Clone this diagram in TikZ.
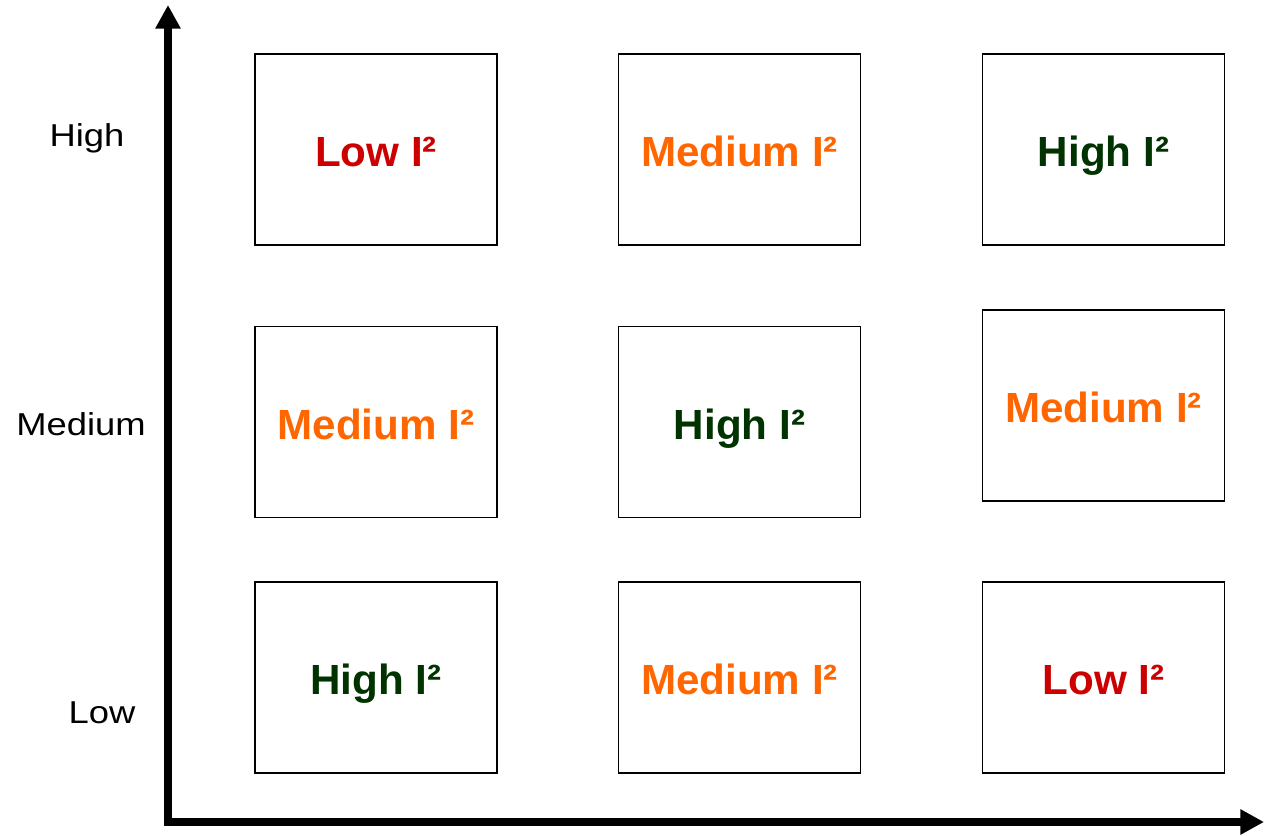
\documentclass[tikz,border=0pt]{standalone}
\usepackage{fontspec}
\usepackage{graphicx}
\setmainfont{Liberation Sans}
\usetikzlibrary{arrows.meta}

\begin{document}
\begin{tikzpicture}[
    cell/.style={shape=rectangle,draw,line width=0.8pt,minimum width=4.84cm,minimum height=3.82cm,inner sep=0pt,text height=0.68cm,text depth=0cm,font=\fontsize{24}{28}\selectfont\bfseries},
    level/.style={anchor=base,font=\fontsize{18}{22}\selectfont},
    axis/.style={line width=4.5pt,{Triangle[length=13.5pt,width=13.7pt]}-{Triangle[length=13.5pt,width=13.7pt]}}
]
    \definecolor{isq_low}{RGB}{204,0,0}
    \definecolor{isq_med}{RGB}{255,102,0}
    \definecolor{isq_high}{RGB}{0,51,0}
    \useasboundingbox (0,0) rectangle (25.28,16.7);

    \coordinate (origin) at (3.36,0.26);
    \coordinate (ytip) at (3.36,16.6);
    \coordinate (xtip) at (25.28,0.26);
    \draw[axis] (ytip) -- (origin) -- (xtip);

    \node[level] (lvhigh) at (1.74,13.76) {\scalebox{1.15}[1]{High}};
    \node[level] (lvmed)  at (1.62,8.0)   {\scalebox{1.15}[1]{Medium}};
    \node[level] (lvlow)  at (2.04,2.24)  {\scalebox{1.15}[1]{Low}};

    \node[cell,text=isq_low]  (c11) at (7.52,13.71)  {Low I²};
    \node[cell,text=isq_med]  (c21) at (14.79,13.71) {Medium I²};
    \node[cell,text=isq_high] (c31) at (22.07,13.71) {High I²};

    \node[cell,text=isq_med]  (c12) at (7.52,8.26)  {Medium I²};
    \node[cell,text=isq_high] (c22) at (14.79,8.26) {High I²};
    \node[cell,text=isq_med]  (c32) at (22.07,8.59) {Medium I²};

    \node[cell,text=isq_high] (c13) at (7.52,3.15)  {High I²};
    \node[cell,text=isq_med]  (c23) at (14.79,3.15) {Medium I²};
    \node[cell,text=isq_low]  (c33) at (22.07,3.15) {Low I²};
\end{tikzpicture}
\end{document}
